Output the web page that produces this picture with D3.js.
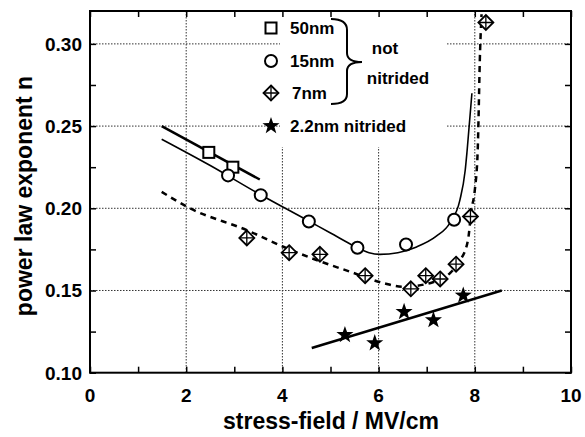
<!DOCTYPE html>
<html><head><meta charset="utf-8">
<script src="https://cdn.jsdelivr.net/npm/d3@7"></script>
<style>body{margin:0;background:#fff}svg{display:block}text{font-family:"Liberation Sans",Arial,sans-serif;font-weight:bold;fill:#000}</style>
</head><body><svg id="c" width="585" height="437"></svg>
<script>
// data
const sq50 = [[2.47,0.234],[2.97,0.225]];
const circ15 = [[2.87,0.220],[3.55,0.208],[4.55,0.192],[5.56,0.176],[6.57,0.178],[7.57,0.193]];
const dia7 = [[3.26,0.182],[4.14,0.173],[4.78,0.172],[5.72,0.159],[6.67,0.151],[6.98,0.159],[7.28,0.157],[7.61,0.166],[7.91,0.195],[8.23,0.313]];
const star22 = [[5.30,0.123],[5.92,0.118],[6.53,0.137],[7.14,0.132],[7.76,0.147]];
const fit50 = [[1.49,0.250],[3.53,0.2175]];
const fit15 = [[1.49,0.242],[2.5,0.226],[3.5,0.209],[4.5,0.193],[5.0,0.185],[5.5,0.177],[5.8,0.173],[6.03,0.172],[6.4,0.173],[6.79,0.1765],[7.2,0.183],[7.48,0.191],[7.69,0.205],[7.80,0.223],[7.84,0.235],[7.94,0.270]];
const fit7 = [[1.49,0.210],[2.08,0.200],[3.26,0.1867],[4.02,0.1766],[4.71,0.1685],[5.41,0.1614],[6.1,0.1545],[6.51,0.1523],[7.13,0.155],[7.5,0.161],[7.69,0.168],[7.86,0.181],[7.93,0.199],[8.0,0.211],[8.06,0.235],[8.11,0.296],[8.14,0.318]];
const fit22 = [[4.61,0.115],[8.56,0.150]];
const xTicks = [0,2,4,6,8,10];
const yTicks = [0.10,0.15,0.20,0.25,0.30];
const legendLabels = ["50nm","15nm","7nm","2.2nm nitrided"];
const braceLabels = ["not","nitrided"];
const xTitle = "stress-field / MV/cm";
const yTitle = "power law exponent n";

const svg = d3.select("#c");
const L=90,R=571,T=11,B=372.7;
const x = d3.scaleLinear().domain([0,10]).range([L,R]);
const y = d3.scaleLinear().domain([0.10,0.32]).range([B,T]);

svg.append("defs").append("clipPath").attr("id","clip").append("rect")
  .attr("x",L).attr("y",T).attr("width",R-L).attr("height",B-T);

// grid
const grid = svg.append("g").attr("stroke","#333").attr("stroke-width",1).attr("stroke-dasharray","1.5,1.5");
[2,4,6,8].forEach(v=>grid.append("line").attr("x1",x(v)).attr("x2",x(v)).attr("y1",T).attr("y2",B));
[0.15,0.20,0.25,0.30].forEach(v=>grid.append("line").attr("x1",L).attr("x2",R).attr("y1",y(v)).attr("y2",y(v)));

// legend background
svg.append("rect").attr("x",280).attr("y",T+1).attr("width",167).attr("height",135).attr("fill","#fff");

// axes with inward ticks
const ax = svg.append("g");
ax.append("g").attr("transform",`translate(0,${B})`).call(d3.axisBottom(x).ticks(10).tickSizeInner(-6).tickSizeOuter(0).tickFormat(""));
ax.append("g").attr("transform",`translate(0,${T})`).call(d3.axisTop(x).ticks(10).tickSizeInner(-6).tickSizeOuter(0).tickFormat(""));
const yMinor = d3.range(0.10,0.3201,0.025);
ax.append("g").attr("transform",`translate(${L},0)`).call(d3.axisLeft(y).tickValues(yMinor).tickSizeInner(-6).tickSizeOuter(0).tickFormat(""));
ax.append("g").attr("transform",`translate(${R},0)`).call(d3.axisRight(y).tickValues(yMinor).tickSizeInner(-6).tickSizeOuter(0).tickFormat(""));
ax.selectAll(".domain").remove();
ax.selectAll(".tick line").attr("stroke","#000").attr("stroke-width",1.5);
svg.append("rect").attr("x",L).attr("y",T).attr("width",R-L).attr("height",B-T).attr("fill","none").attr("stroke","#000").attr("stroke-width",2);

// tick labels
svg.append("g").selectAll("text").data(xTicks).join("text")
  .attr("x",d=>x(d)).attr("y",402).attr("text-anchor","middle").attr("font-size",19).text(d=>d);
svg.append("g").selectAll("text").data(yTicks).join("text")
  .attr("x",82).attr("y",d=>y(d)+7).attr("text-anchor","end").attr("font-size",19).text(d=>d.toFixed(2));
svg.append("text").attr("x",331).attr("y",429).attr("text-anchor","middle").attr("font-size",23).text(xTitle);
svg.append("text").attr("transform","translate(32,196) rotate(-90)").attr("text-anchor","middle").attr("font-size",23).text(yTitle);

// fit lines
const plot = svg.append("g").attr("clip-path","url(#clip)");
const lineS = d3.line().x(d=>x(d[0])).y(d=>y(d[1]));
const lineC = d3.line().x(d=>x(d[0])).y(d=>y(d[1])).curve(d3.curveMonotoneX);
plot.append("path").attr("d",lineS(fit50)).attr("fill","none").attr("stroke","#000").attr("stroke-width",2.5);
plot.append("path").attr("d",lineC(fit15)).attr("fill","none").attr("stroke","#000").attr("stroke-width",1.6);
plot.append("path").attr("d",lineC(fit7)).attr("fill","none").attr("stroke","#000").attr("stroke-width",2.5).attr("stroke-dasharray","6,5");
plot.append("path").attr("d",lineS(fit22)).attr("fill","none").attr("stroke","#000").attr("stroke-width",2.5);

// markers
function square(g){g.append("rect").attr("x",-5.5).attr("y",-5.5).attr("width",11).attr("height",11).attr("fill","#fff").attr("stroke","#000").attr("stroke-width",2);}
function circle(g){g.append("circle").attr("r",6).attr("fill","#fff").attr("stroke","#000").attr("stroke-width",2);}
function diamond(g){
  g.append("path").attr("d","M0,-7.5L7.5,0L0,7.5L-7.5,0Z").attr("fill","#fff").attr("stroke","#000").attr("stroke-width",1.8);
  g.append("path").attr("d","M0,-7.5V7.5M-7.5,0H7.5").attr("stroke","#000").attr("stroke-width",1.3);
}
function star(g){
  const pts=[];for(let i=0;i<10;i++){const r=i%2?3.6:9;const a=-Math.PI/2+i*Math.PI/5;pts.push([r*Math.cos(a),r*Math.sin(a)]);}
  g.append("path").attr("d","M"+pts.map(p=>p.join(",")).join("L")+"Z").attr("fill","#000");
}
function draw(data,fn){svg.append("g").selectAll("g").data(data).join("g").attr("transform",d=>`translate(${x(d[0])},${y(d[1])})`).each(function(){fn(d3.select(this));});}
draw(sq50,square);draw(circ15,circle);draw(dia7,diamond);draw(star22,star);

// legend
const leg = svg.append("g");
const legY=[28,61,93,126], legFns=[square,circle,diamond,star];
legY.forEach((yy,i)=>{const g=leg.append("g").attr("transform",`translate(271,${yy})`);legFns[i](g);
  leg.append("text").attr("x",i==2?292:290).attr("y",yy+6).attr("font-size",17).text(legendLabels[i]);});
leg.append("path").attr("d","M331,19 Q347,19 347,30 V53 Q347,62 362,62 Q347,62 347,71 V94 Q347,104 331,104")
  .attr("fill","none").attr("stroke","#000").attr("stroke-width",2);
leg.append("text").attr("x",385).attr("y",54).attr("text-anchor","middle").attr("font-size",17).text(braceLabels[0]);
leg.append("text").attr("x",398).attr("y",84).attr("text-anchor","middle").attr("font-size",17).text(braceLabels[1]);
</script></body></html>
